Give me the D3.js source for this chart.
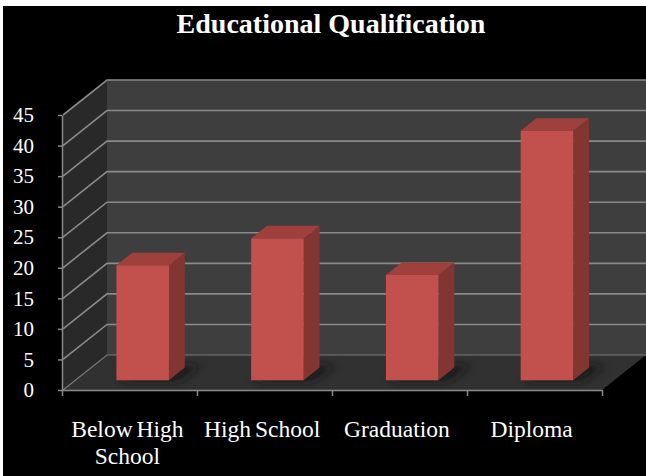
<!DOCTYPE html>
<html><head><meta charset="utf-8">
<script src="https://cdn.jsdelivr.net/npm/d3@7"></script>
<style>html,body{margin:0;padding:0;background:#000;}svg{display:block;}</style>
</head><body>
<svg id="chart" width="646" height="476"></svg>
<script>
const title = "Educational Qualification";
const categories = ["Below High School", "High School", "Graduation", "Diploma"];
const values = [18.8, 23.2, 17.2, 40.8];
const yTicks = [0, 5, 10, 15, 20, 25, 30, 35, 40, 45];

const W = 646, H = 476;
const svg = d3.select("#chart");
const DX = 44, DY = 35;          // depth offset of the 3D box
const D0 = 0.28, D1 = 0.64;      // bar depth range
const serif = "'Liberation Serif','Times New Roman',serif";

svg.append("rect").attr("width", W).attr("height", H).attr("fill", "#000");
svg.append("rect").attr("width", W).attr("height", 6).attr("fill", "#fff");
svg.append("rect").attr("width", 3).attr("height", H).attr("fill", "#fff");

const x = d3.scaleBand().domain(categories).range([63, 602]).padding(0);
const y = d3.scaleLinear().domain([0, 45]).range([390, 115]);
const xl = x.range()[0], xr = x.range()[1];
const P = (px, v, d) => [px + d * DX, y(v) - d * DY];
const poly = pts => "M" + pts.map(p => p.join(",")).join("L") + "Z";

const defs = svg.append("defs");
defs.append("filter").attr("id", "blur").attr("x", "-50%").attr("y", "-50%").attr("width", "200%").attr("height", "200%")
  .append("feGaussianBlur").attr("stdDeviation", 4);

// walls
const g = svg.append("g");
g.append("path").attr("fill", "#3e3e3e")
  .attr("d", poly([P(xl, 0, 1), P(xr + 10, 0, 1), P(xr + 10, 45, 1), P(xl, 45, 1)]));
g.append("path").attr("fill", "#292929")
  .attr("d", poly([P(xl, 0, 0), P(xl, 0, 1), P(xl, 45, 1), P(xl, 45, 0)]));
g.append("path").attr("fill", "#313131")
  .attr("d", poly([P(xl, 0, 0), P(xr, 0, 0), P(xr, 0, 1), P(xl, 0, 1)]));

// gridlines
yTicks.forEach(t => {
  if (t === 0) return;
  g.append("path").attr("fill", "none").attr("stroke", "#8a8a8a").attr("stroke-width", 1.6)
    .attr("d", "M" + P(xl, t, 0).join(",") + "L" + P(xl, t, 1).join(",") + "L" + P(xr + 10, t, 1).join(","));
});
g.append("path").attr("fill", "none").attr("stroke", "#7a7a7a").attr("stroke-width", 1.2)
  .attr("d", "M" + P(xl, 0, 0).join(",") + "L" + P(xl, 0, 1).join(",") + "L" + P(xr + 10, 0, 1).join(","));

// bars
const bw = x.bandwidth() * 0.39;
const bars = svg.append("g");
categories.forEach((c, i) => {
  const v = values[i];
  const cx = x(c) + x.bandwidth() / 2;
  const l = cx - bw / 2, r = cx + bw / 2;
  bars.append("path").attr("fill", "#161616").attr("opacity", 0.85).attr("filter", "url(#blur)")
    .attr("d", poly([P(l + 2, 0, D0 - 0.02), P(r + 10, 0, D0 - 0.02), P(r + 14, 0, D1 + 0.05), P(l + 8, 0, D1 + 0.05)]));
  bars.append("path").attr("fill", "#833532")
    .attr("d", poly([P(r, 0, D0), P(r, 0, D1), P(r, v, D1), P(r, v, D0)]));
  bars.append("path").attr("fill", "#a0403d")
    .attr("d", poly([P(l, v, D0), P(r, v, D0), P(r, v, D1), P(l, v, D1)]));
  bars.append("path").attr("fill", "#c2514e")
    .attr("d", poly([P(l, 0, D0), P(r, 0, D0), P(r, v, D0), P(l, v, D0)]));
});

// y axis
const yAxis = svg.append("g").attr("transform", "translate(62,0)")
  .call(d3.axisLeft(y).tickValues(yTicks).tickSize(4).tickSizeOuter(0).tickPadding(24));
yAxis.select(".domain").attr("stroke", "#8a8a8a").attr("stroke-width", 1.5);
yAxis.selectAll(".tick line").attr("stroke", "#8a8a8a").attr("stroke-width", 1.5);
yAxis.selectAll(".tick text").attr("fill", "#fff").attr("font-family", serif).attr("font-size", 21);

// x axis (ticks at category boundaries)
const xb = d3.scaleLinear().domain([0, categories.length]).range([xl - 1, xr]);
const xAxis = svg.append("g").attr("transform", "translate(0,390)")
  .call(d3.axisBottom(xb).ticks(categories.length).tickFormat("").tickSize(6).tickSizeOuter(0));
xAxis.select(".domain").attr("stroke", "#8a8a8a").attr("stroke-width", 1.5);
xAxis.selectAll(".tick line").attr("stroke", "#8a8a8a").attr("stroke-width", 1.5);

// category labels with wrapping
const labels = svg.append("g");
categories.forEach(c => {
  const lx = x(c) + x.bandwidth() / 2 - 3;
  const t = labels.append("text").attr("x", lx).attr("y", 437)
    .attr("text-anchor", "middle").attr("fill", "#fff").attr("font-family", serif).attr("font-size", 23.5)
    .style("word-spacing", "-2px");
  const words = c.split(" ");
  let line = [];
  let ts = t.append("tspan").attr("x", lx).attr("dy", 0);
  words.forEach(w => {
    line.push(w);
    ts.text(line.join(" "));
    if (ts.node().getComputedTextLength() > x.bandwidth() - 4 && line.length > 1) {
      line.pop(); ts.text(line.join(" "));
      line = [w];
      ts = t.append("tspan").attr("x", lx).attr("dy", 27).text(w);
    }
  });
});

// title
svg.append("text").attr("x", 331).attr("y", 33).attr("text-anchor", "middle")
  .attr("fill", "#fff").attr("font-family", serif).attr("font-weight", "bold").attr("font-size", 28)
  .text(title);
</script>
</body></html>
